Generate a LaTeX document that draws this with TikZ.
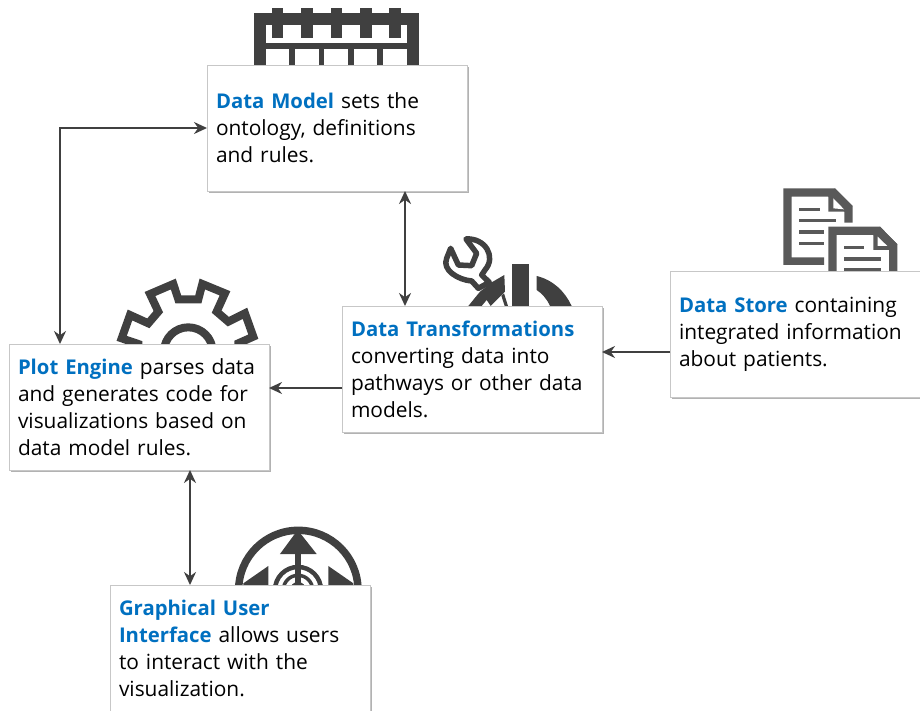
\documentclass[tikz,border=0pt]{standalone}
\usepackage{fontspec}
\setmainfont{Open Sans}
\usetikzlibrary{arrows.meta,shadows}
\definecolor{icon}{HTML}{404040}
\definecolor{docicon}{HTML}{595959}
\definecolor{head}{HTML}{0070C0}
\newcommand{\hd}[1]{\textcolor{head}{\fontsize{20.3pt}{27pt}\selectfont\textbf{#1}}}
\tikzset{
  card/.style={draw=black!22,line width=.8pt,fill=white,anchor=north west,minimum width=260pt,minimum height=126pt,
    text width=242pt,align=left,inner sep=0pt,outer sep=0pt,font=\fontsize{20.9pt}{27pt}\selectfont,text=black,
    drop shadow={shadow xshift=1.6pt,shadow yshift=-1.6pt,fill=black!30,opacity=1}},
  link/.style={draw=icon,line width=2.4pt,arrows={-Stealth[length=13pt,width=12pt]}},
  twoway/.style={draw=icon,line width=2.4pt,arrows={Stealth[length=13pt,width=12pt]-Stealth[length=13pt,width=12pt]}},
  iconline/.style={draw=icon,fill=none,line join=miter}
}
\begin{document}
\begin{tikzpicture}[x=1pt,y=-1pt]
\useasboundingbox (0,0) rectangle (920,711);
% calendar icon
\fill[icon] (254,13) rectangle (419,65);
\fill[white] (266,25) rectangle (407,43);
\fill[white] (266,49) rectangle (289,65);
\fill[white] (295,49) rectangle (319,65);
\fill[white] (324,49) rectangle (348,65);
\fill[white] (354,49) rectangle (377,65);
\fill[white] (383,49) rectangle (407,65);
\foreach \a/\b in {272/283,301/313,331/342,360/372,389/401}{\fill[icon] (\a,8) rectangle (\b,38);}
% wrench and dial icon
\begin{scope}[shift={(430,225)},x=.3333pt,y=-.3333pt]
\draw[iconline,line width=5.5pt,line join=round] (108,42) .. controls (165,38) and (200,95) .. (165,135) -- (155,150) -- (178,172) -- (145,190) -- (125,168) .. controls (85,165) and (35,135) .. (50,100) -- (62,70) -- (85,120) -- (125,122) -- (140,85) -- cycle;
\fill[icon] (115,243) -- (150,200) -- (185,172) -- (223,150) -- (225,200) -- (182,243) -- (170,225) -- (155,243) -- cycle;
\fill[icon] (222,205) -- (234,243) -- (224,243) -- (214,212) -- cycle;
\fill[icon] (247,118) rectangle (297,243);
\fill[icon] (320,153) .. controls (370,165) and (405,200) .. (425,243) -- (360,243) .. controls (350,220) and (335,205) .. (320,195) -- cycle;
\end{scope}
% documents icon
\begin{scope}[shift={(770,180)},x=.3333pt,y=-.3333pt]
\fill[docicon] (40,25) -- (195,25) -- (248,78) -- (248,128) -- (223,128) -- (223,95) -- (175,95) -- (175,50) -- (65,50) -- (65,232) -- (162,232) -- (162,255) -- (40,255) -- cycle;
\fill[docicon] (175,50) -- (195,25) -- (248,78) -- (223,95) -- cycle;
\fill[white] (190,55) -- (222,88) -- (190,85) -- cycle;
\foreach \yy/\xx in {88/150,122/198,156/162,190/162}{\fill[docicon] (88,\yy-5) rectangle (\xx,\yy+5);}
\fill[docicon] (175,140) -- (330,140) -- (382,193) -- (382,275) -- (357,275) -- (357,210) -- (310,210) -- (310,165) -- (200,165) -- (200,275) -- (175,275) -- cycle;
\fill[docicon] (310,165) -- (330,140) -- (382,193) -- (357,210) -- cycle;
\fill[white] (323,170) -- (352,198) -- (323,198) -- cycle;
\foreach \yy/\xx in {203/283,237/333,268/333}{\fill[docicon] (223,\yy-5) rectangle (\xx,\yy+5);}
\end{scope}
% gear icon
\begin{scope}[shift={(110,270)},x=.3333pt,y=-.3333pt]
\draw[iconline,line width=8pt] (85,245) -- (85,222) -- (35,205) -- (60,135) -- (115,160) -- (145,125) -- (120,72) -- (190,42) -- (205,88) -- (265,88) -- (277,42) -- (345,70) -- (320,125) -- (355,155) -- (405,130) -- (430,200) -- (385,220) -- (385,245);
\draw[iconline,line width=8pt] (162,245) arc[start angle=180,end angle=360,radius=73];
\end{scope}
% compass icon
\begin{scope}[shift={(225,510)},x=.3333pt,y=-.3333pt]
\draw[iconline,line width=7.5pt] (41,240) arc[start angle=180,end angle=360,radius=179];
\fill[icon] (218,60) -- (275,132) -- (165,132) -- cycle;
\fill[icon] (210,130) rectangle (228,240);
\fill[icon] (130,168) -- (130,240) -- (55,240) -- (55,220) -- cycle;
\fill[icon] (310,168) -- (310,240) -- (385,240) -- (385,220) -- cycle;
\draw[iconline,line width=4.5pt] (150,240) arc[start angle=180,end angle=360,radius=69];
\draw[iconline,line width=3.5pt] (175,240) arc[start angle=180,end angle=360,radius=44];
\fill[icon] (195,240) arc[start angle=180,end angle=360,radius=24] -- cycle;
\end{scope}
% cards
\node[card] (dm) at (207,65) {\hd{Data Model} sets the\\ontology, definitions\\and rules.};
\node[card] (dt) at (342,306) {\hd{Data Transformations}\\converting data into\\pathways or other data\\models.};
\node[card,minimum width=250pt,text width=232pt] (ds) at (670,271) {\hd{Data Store} containing\\integrated information\\about patients.};
\node[card] (pe) at (9,344) {\hd{Plot Engine} parses data\\and generates code for\\visualizations based on\\data model rules.};
\node[card] (ui) at (110,585) {\hd{Graphical User}\\\hd{Interface} allows users\\to interact with the\\visualization.};
% connectors
\coordinate (elbow) at (60,128);
\coordinate (dmx) at (405,128);
\coordinate (dsy) at (640,352);
\coordinate (dty) at (300,388);
\coordinate (pex) at (190,500);
\draw[twoway] (pe.north -| elbow) -- (elbow) -- (dm.west |- elbow);
\draw[twoway] (dm.south -| dmx) -- (dt.north -| dmx);
\draw[link] (ds.west |- dsy) -- (dt.east |- dsy);
\draw[link] (dt.west |- dty) -- (pe.east |- dty);
\draw[twoway] (pe.south -| pex) -- (ui.north -| pex);
\end{tikzpicture}
\end{document}
